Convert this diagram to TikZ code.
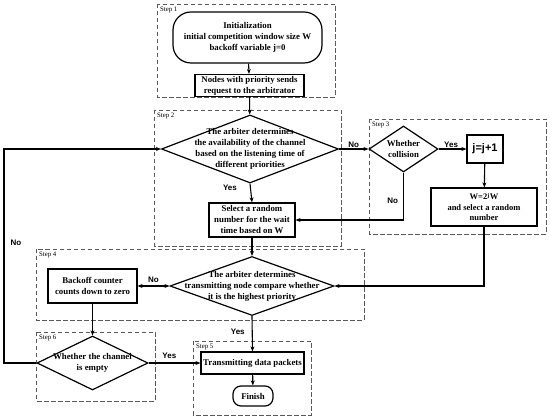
\documentclass[tikz,border=0pt]{standalone}
\usepackage{fontspec}
\setmainfont{Liberation Serif}
\newfontfamily\lblfont{Liberation Sans}
\usetikzlibrary{shapes.geometric,arrows.meta}

\tikzset{
  stepbox/.style={draw=black!65, line width=0.9pt, dash pattern=on 4.5pt off 2.5pt},
  steplbl/.style={anchor=north west, font=\fontsize{6.8}{8}\selectfont, inner sep=1pt},
  txtfont/.style={font=\fontsize{8.8}{11}\selectfont\bfseries},
  proc/.style={draw, line width=1.2pt, txtfont, align=center, inner sep=0pt},
  term/.style={proc, rounded corners=10pt},
  dec/.style={draw, line width=1.2pt, diamond, inner sep=0pt},
  dectxt/.style={txtfont, align=center, inner sep=0pt},
  yn/.style={font=\fontsize{8}{9}\selectfont\lblfont\bfseries, inner sep=1pt},
  conn/.style={line width=1.1pt, -{Stealth[length=5pt,width=4pt]}}
}

\begin{document}
\begin{tikzpicture}[x=1pt,y=-1pt]
\useasboundingbox (0,0) rectangle (550,419);

%step frames
\draw[stepbox] (157,4) rectangle (335,97);
\node[steplbl] at (159,6) {Step 1};
\draw[stepbox] (154,110) rectangle (341,246);
\node[steplbl] at (156,112) {Step 2};
\draw[stepbox] (369,119) rectangle (546,234);
\node[steplbl] at (371,121) {Step 3};
\draw[stepbox] (36,249) rectangle (364,320);
\node[steplbl] at (38,251) {Step 4};
\draw[stepbox] (193,341) rectangle (311,415);
\node[steplbl] at (195,343) {Step 5};
\draw[stepbox] (36,332) rectangle (155,401);
\node[steplbl] at (38,334) {Step 6};

%nodes
\node[term, minimum width=149, minimum height=51, rounded corners=18pt] (init) at (247.5,37.5)
  {Initialization\\ initial competition window size W\\ backoff variable j=0};
\node[proc, minimum width=109, minimum height=22] (req) at (249.5,85.5)
  {Nodes with priority sends\\ request to the arbitrator};
\node[dec, minimum width=177, minimum height=68] (judge) at (250,149) {};
\node[dectxt] at (judge) {The arbiter determines\\ the availability of the channel\\ based on the listening time of\\ different priorities};
\node[proc, minimum width=86, minimum height=34] (sel) at (252,220)
  {Select a random\\ number for the wait\\ time based on W};
\node[dec, minimum width=69, minimum height=46] (coll) at (403.5,149) {};
\node[dectxt] at (coll) {Whether\\ collision};
\node[proc, minimum width=36, minimum height=28, font=\fontsize{11}{12}\selectfont\lblfont\bfseries] (inc) at (485,149) {j=j+1};
\node[proc, minimum width=106, minimum height=38, font=\fontsize{8.5}{10.5}\selectfont\bfseries] (win) at (484,207)
  {W=2\textsuperscript{j}W\\ and select a random\\ number};
\node[dec, minimum width=164, minimum height=59] (cmp) at (252,286) {};
\node[dectxt] at (cmp) {The arbiter determines\\ transmitting node compare whether\\ it is the highest priority};
\node[proc, minimum width=89, minimum height=34] (back) at (92.5,286)
  {Backoff counter\\ counts down to zero};
\node[dec, minimum width=111, minimum height=54] (chan) at (92.5,363) {};
\node[dectxt] at (chan) {Whether the channel\\ is empty};
\node[proc, minimum width=103, minimum height=22] (tx) at (252.5,363) {Transmitting data packets};
\node[term, minimum width=40, minimum height=20, rounded corners=8pt] (fin) at (253,396) {Finish};
\coordinate (lft) at (4,363);

%connectors
\draw[conn] (init) -- (req);
\draw[conn] (req) -- (judge);
\draw[conn] (judge) -- node[yn, above, pos=0.5] {No} (coll);
\draw[conn] (coll) -- node[yn, above, pos=0.45] {Yes} (inc);
\draw[conn] (inc) -- (win);
\draw[conn] (coll.south) |- node[yn, pos=0.3, left=4pt] {No} (sel.east);
\draw[conn] (judge.south) -- node[yn, pos=0.2, left=12pt] {Yes} (sel.north);
\draw[conn] (sel) -- (cmp);
\draw[conn] (win.south) |- (cmp.east);
\draw[line width=1.1pt, {Stealth[length=5pt,width=4pt]}-{Stealth[length=5pt,width=4pt]}] (cmp.west) -- node[yn, above=2pt] {No} (back.east);
\draw[conn] (back) -- (chan);
\draw[conn] (cmp.south) -- node[yn, pos=0.45, left=6pt] {Yes} (tx.north);
\draw[conn] (chan.east) -- node[yn, above=3pt, pos=0.4] {Yes} (tx.west);
\draw[conn] (tx) -- (fin);
\draw[conn] (chan.west) -- (lft) |- node[yn, pos=0.28, right=5pt] {No} (judge.west);
\end{tikzpicture}
\end{document}
